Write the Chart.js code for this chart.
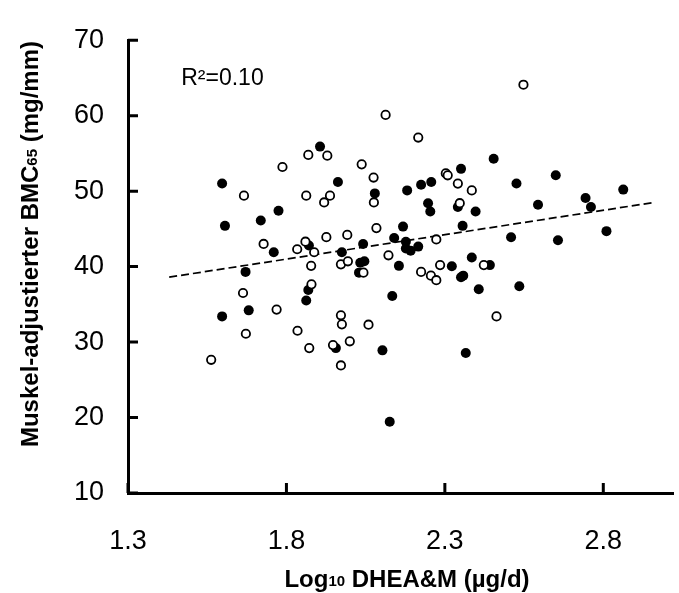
<html>
  <head>
    <script src="https://cdn.jsdelivr.net/npm/chart.js@4.4.0/dist/chart.umd.min.js"></script>
    <title>DHEA_BMC_scatter</title>
    <style>body{margin:0;background:#fff;}</style>
  </head>
  <body>
    <canvas id="myChart" width="679" height="593"></canvas>
    <script>
// filled symbols
const filledX = [1.906, 1.9625, 1.597, 2.079, 2.181, 1.775, 1.719, 1.606, 2.168, 2.14, 2.177, 2.177, 1.871, 1.760, 2.042,
  1.975, 2.033, 2.046, 2.155, 1.671, 2.029, 1.869, 1.8625, 2.134, 1.681, 1.597, 1.956, 2.103, 2.126, 2.454,
  2.351, 2.65, 2.225, 2.257, 2.526, 2.863, 2.744, 2.761, 2.594, 2.247, 2.254, 2.341, 2.397, 2.356, 2.509,
  2.657, 2.81, 2.192, 2.216, 2.385, 2.322, 2.442, 2.351, 2.358, 2.407, 2.535, 2.366];
const filledY = [55.9, 51.2, 51.0, 49.7, 50.1, 47.4, 46.1, 45.4, 45.3, 43.8, 43.3, 42.4, 42.8, 41.9, 43.0,
  41.9, 40.5, 40.7, 40.1, 39.3, 39.2, 36.9, 35.5, 36.1, 34.2, 33.4, 29.2, 28.9, 19.45, 54.3,
  52.95, 52.1, 50.85, 51.2, 51.0, 50.2, 49.1, 47.9, 48.2, 48.4, 47.3, 47.9, 47.3, 45.4, 43.9,
  43.5, 44.7, 42.1, 42.65, 41.2, 40.05, 40.2, 38.6, 38.8, 37.0, 37.4, 28.55];

// open symbols
const openX = [2.113, 1.869, 1.929, 1.7875, 2.0375, 2.075, 1.666, 1.8625, 1.9375, 1.919, 2.076, 1.926, 1.992, 2.084, 1.728,
  1.860, 1.8875, 1.834, 2.122, 1.878, 1.972, 1.994, 2.043, 1.663, 1.879, 1.769, 1.972, 1.975, 2.059, 1.672,
  1.835, 1.872, 1.947, 2.0, 1.5625, 1.972, 2.548, 2.216, 2.303, 2.309, 2.341, 2.385, 2.347, 2.273, 2.285,
  2.423, 2.225, 2.256, 2.273, 2.463];
const openY = [60.1, 54.8, 54.7, 53.2, 53.55, 51.8, 49.4, 49.4, 49.4, 48.5, 48.5, 43.9, 44.2, 45.1, 43.0,
  43.3, 41.9, 42.3, 41.5, 40.1, 40.3, 40.7, 39.2, 36.5, 37.65, 34.3, 33.55, 32.35, 32.3, 31.1,
  31.5, 29.2, 29.6, 30.1, 27.65, 26.9, 64.1, 57.1, 52.35, 52.1, 51.0, 50.1, 48.4, 43.6, 40.2,
  40.2, 39.3, 38.8, 38.2, 33.4];

// regression line end points
const trendX = [1.43, 2.96];
const trendY = [38.6, 48.5];

const xTicks = [1.3, 1.8, 2.3, 2.8];
const yTicks = [10, 20, 30, 40, 50, 60, 70];
const r2Label = "R²=0.10";

const FONT = "'Liberation Sans', Arial, sans-serif";

function toPoints(xs, ys) {
  return xs.map((x, i) => ({ x: x, y: ys[i] }));
}

// draws text parts [text, size, dy] one after the other, centred on 0
function drawParts(ctx, parts) {
  let total = 0;
  parts.forEach(p => { ctx.font = "bold " + p[1] + "px " + FONT; total += ctx.measureText(p[0]).width; });
  let x = -total / 2;
  parts.forEach(p => {
    ctx.font = "bold " + p[1] + "px " + FONT;
    ctx.fillText(p[0], x, p[2]);
    x += ctx.measureText(p[0]).width;
  });
}

const extras = {
  id: 'extras',
  afterDraw(chart) {
    const ctx = chart.ctx;
    const xs = chart.scales.x, ys = chart.scales.y;
    const a = chart.chartArea;
    ctx.save();
    ctx.strokeStyle = '#000';
    ctx.lineWidth = 3;
    ctx.beginPath();
    xTicks.forEach(v => {
      const px = xs.getPixelForValue(v);
      ctx.moveTo(px, a.bottom);
      ctx.lineTo(px, a.bottom - 10);
    });
    yTicks.forEach(v => {
      const py = ys.getPixelForValue(v);
      ctx.moveTo(a.left, py);
      ctx.lineTo(a.left + 10, py);
    });
    ctx.stroke();

    ctx.fillStyle = '#000';
    ctx.textBaseline = 'alphabetic';
    // R² label
    ctx.font = "23px " + FONT;
    ctx.textAlign = 'left';
    ctx.fillText(r2Label, xs.getPixelForValue(1.468), ys.getPixelForValue(64.0));

    // x title
    ctx.save();
    ctx.translate(407, 587);
    drawParts(ctx, [["Log", 24, 0], ["10", 15, -1], [" DHEA&M (µg/d)", 24, 0]]);
    ctx.restore();

    // y title
    ctx.save();
    ctx.translate(38, 244);
    ctx.rotate(-Math.PI / 2);
    drawParts(ctx, [["Muskel-adjustierter BMC", 24, 0], ["65", 15, -1], [" (mg/mm)", 24, 0]]);
    ctx.restore();
    ctx.restore();
  }
};

var ctx = document.getElementById("myChart");
var myChart = new Chart(ctx, {
  type: 'scatter',
  data: {
    datasets: [{
      label: 'trend',
      type: 'line',
      data: toPoints(trendX, trendY),
      borderColor: '#000',
      borderWidth: 1.7,
      borderDash: [8, 4],
      pointRadius: 0,
      fill: false,
      order: 3
    }, {
      label: 'filled',
      data: toPoints(filledX, filledY),
      backgroundColor: '#000',
      borderColor: '#000',
      borderWidth: 0,
      pointRadius: 5,
      order: 2
    }, {
      label: 'open',
      data: toPoints(openX, openY),
      backgroundColor: '#fff',
      borderColor: '#000',
      borderWidth: 1.8,
      pointRadius: 4.2,
      order: 1
    }]
  },
  options: {
    responsive: false,
    animation: { duration: 0 },
    layout: { padding: { top: 25, right: 0, left: 0, bottom: 0 } },
    plugins: {
      legend: { display: false },
      tooltip: { enabled: false }
    },
    scales: {
      x: {
        type: 'linear',
        min: 1.3,
        max: 3.02,
        afterBuildTicks: s => { s.ticks = xTicks.map(v => ({ value: v })); },
        afterFit: s => { s.height = 100; },
        grid: { display: false, drawTicks: false },
        border: { display: true, color: '#000', width: 3 },
        ticks: {
          color: '#000',
          padding: 32,
          font: { family: FONT, size: 27 },
          callback: v => v.toFixed(1)
        }
      },
      y: {
        min: 10,
        max: 70,
        afterBuildTicks: s => { s.ticks = yTicks.map(v => ({ value: v })); },
        afterFit: s => { s.width = 128; },
        grid: { display: false, drawTicks: false },
        border: { display: true, color: '#000', width: 3 },
        ticks: {
          color: '#000',
          padding: 24,
          font: { family: FONT, size: 27 }
        }
      }
    }
  },
  plugins: [extras]
});
    </script>
  </body>
</html>
